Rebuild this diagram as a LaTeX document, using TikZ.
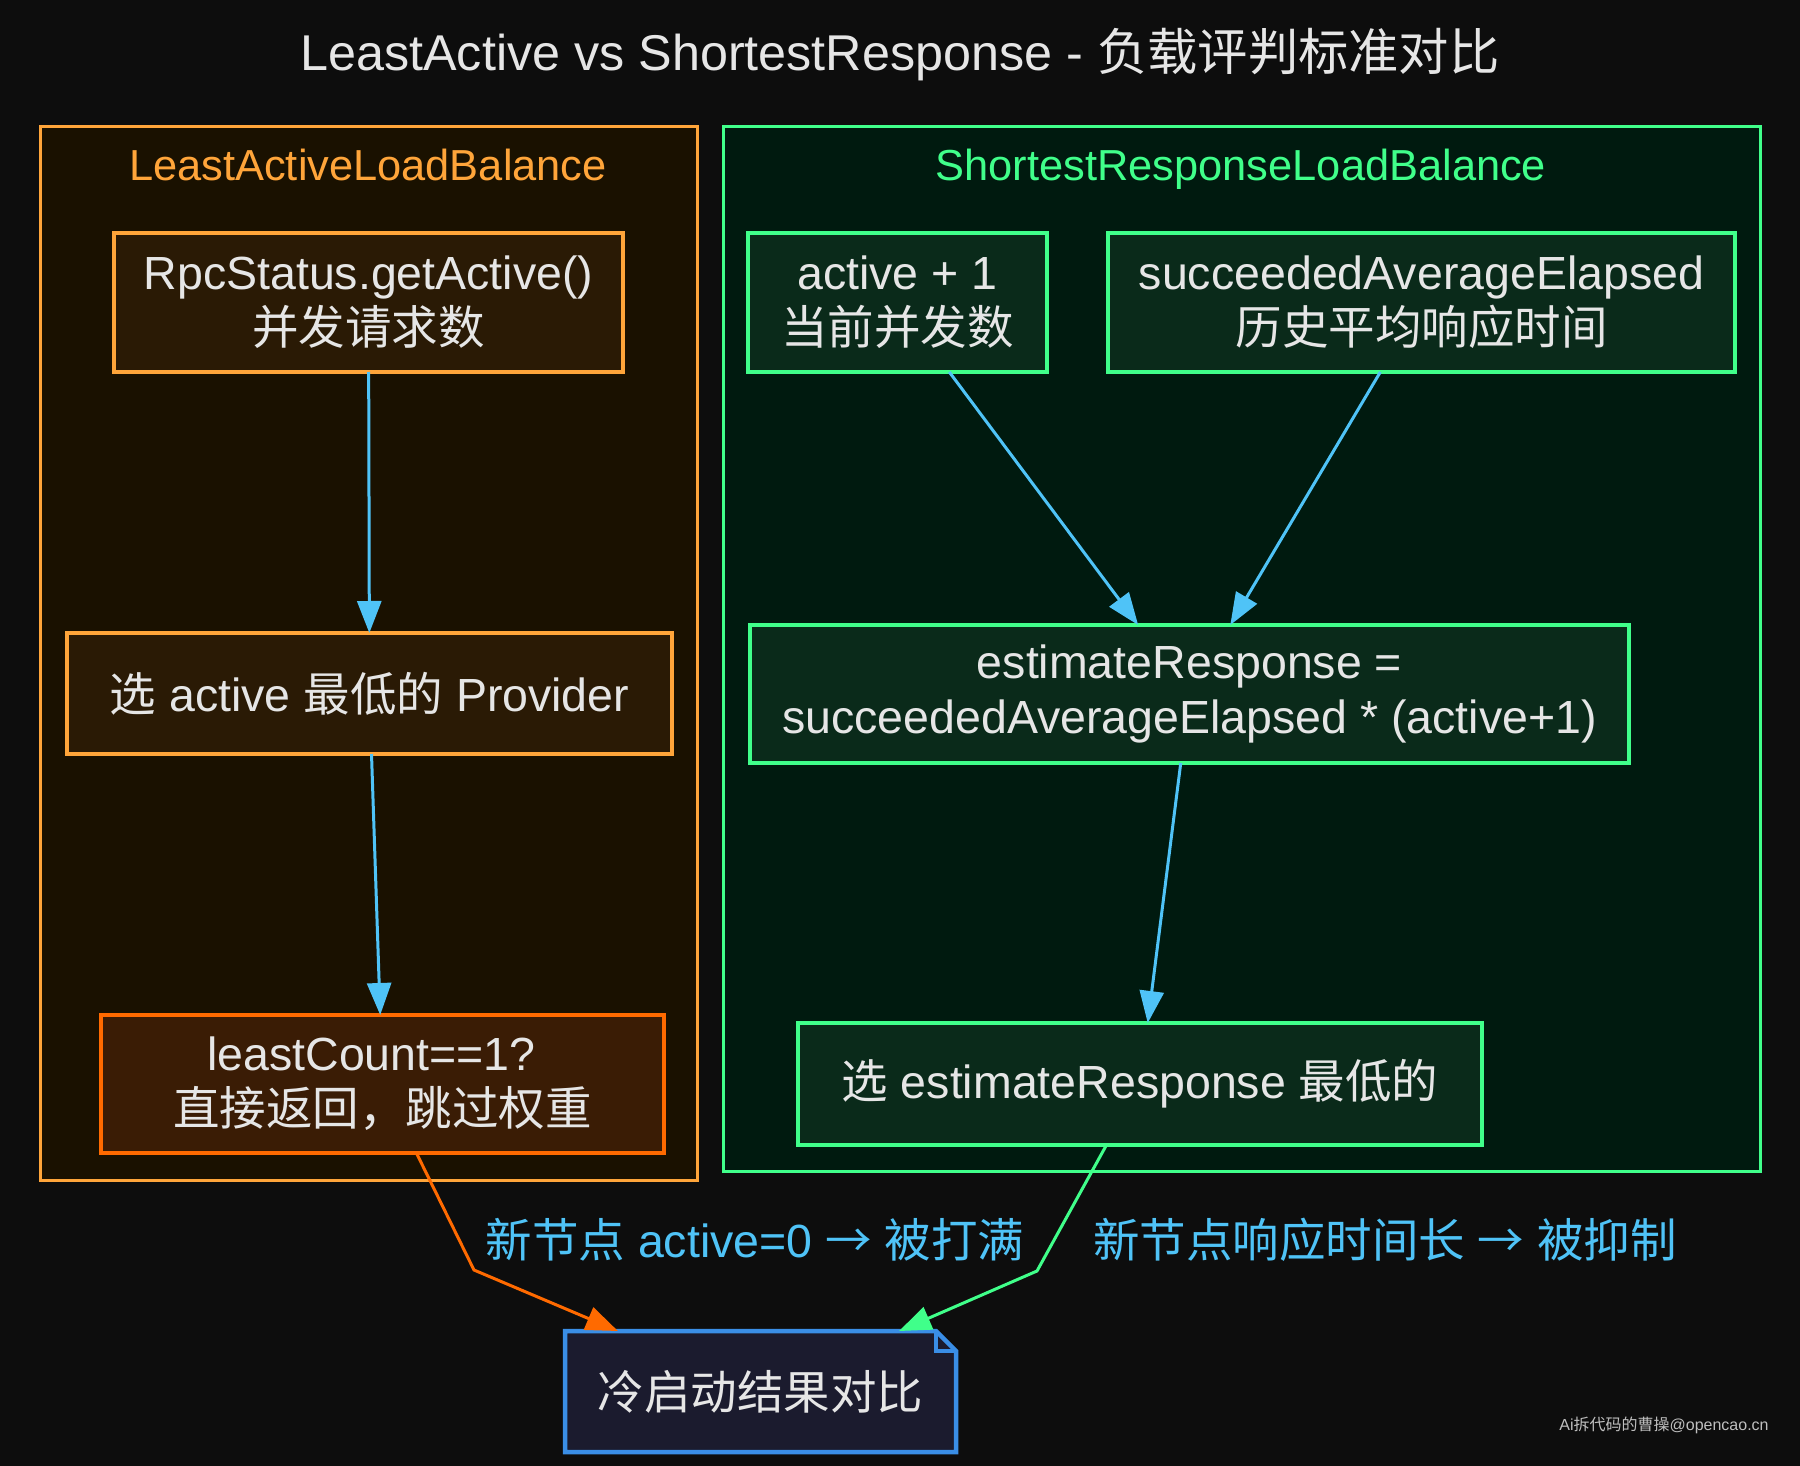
\documentclass[tikz,border=0pt]{standalone}
\usepackage{fontspec}
\setmainfont{Liberation Sans}
\newfontfamily\cjk{Noto Sans CJK SC}
\usetikzlibrary{arrows.meta}
\definecolor{bgc}{HTML}{0D0D0D}
\definecolor{lclfill}{HTML}{1A1100}
\definecolor{lclline}{HTML}{FFA53A}
\definecolor{lnfill}{HTML}{2A1A05}
\definecolor{lcfill}{HTML}{3A1C05}
\definecolor{lcline}{HTML}{FF6A00}
\definecolor{rclfill}{HTML}{001A0F}
\definecolor{rline}{HTML}{40FF8A}
\definecolor{rnfill}{HTML}{0A2A1A}
\definecolor{notefill}{HTML}{1B1B2E}
\definecolor{noteline}{HTML}{3A8EE6}
\definecolor{arrowc}{HTML}{4FC3F7}
\definecolor{txt}{HTML}{E6E6E6}
\definecolor{wmc}{HTML}{BFBFBF}
\pgfdeclarelayer{bglayer}
\pgfdeclarelayer{midlayer}
\pgfsetlayers{bglayer,midlayer,main}
\newcommand\fsnode{\fontsize{46.5pt}{55pt}\selectfont}
\newcommand\fscl{\fontsize{43.4pt}{52pt}\selectfont}
\newcommand\fstitle{\fontsize{50.3pt}{60pt}\selectfont}
\newcommand\fswm{\fontsize{16pt}{19pt}\selectfont}
\begin{document}
\begin{tikzpicture}[x=1pt,y=-1pt,
  every node/.style={inner sep=0pt, outer sep=0pt, text=txt},
  lcluster/.style={draw=lclline, fill=lclfill, line width=3pt},
  rcluster/.style={draw=rline, fill=rclfill, line width=3pt},
  cltitle/.style={font=\fscl, anchor=base},
  lbox/.style={draw=lclline, fill=lnfill, line width=4.5pt, align=center, font=\fsnode},
  lcbox/.style={draw=lcline, fill=lcfill, line width=4.5pt, align=center, font=\fsnode},
  rbox/.style={draw=rline, fill=rnfill, line width=4.5pt, align=center, font=\fsnode},
  notebox/.style={align=center, font=\fsnode},
  flow/.style={draw=arrowc, line width=3pt, -{Triangle[length=32pt,width=24pt]}},
  oedge/.style={draw=lcline, line width=3pt, line join=miter, -{Triangle[length=32pt,width=24pt]}},
  gedge/.style={draw=rline, line width=3pt, line join=miter, -{Triangle[length=32pt,width=24pt]}},
  elabel/.style={text=arrowc, font=\fsnode},
  wmark/.style={text=wmc, font=\fswm}
]
\begin{pgfonlayer}{bglayer}
\fill[bgc] (0,0) rectangle (1800,1466);
\end{pgfonlayer}
\useasboundingbox (0,0) rectangle (1800,1466);

% title
\node[font=\fstitle] (title) at (900,55) {LeastActive vs ShortestResponse - {\cjk 负载评判标准对比}};

% clusters
\node[lcluster, minimum width=657pt, minimum height=1053pt] (lcl) at (368.5,653.5) {};
\node[rcluster, minimum width=1037pt, minimum height=1044pt] (rcl) at (1241.5,649) {};
\node[cltitle, text=lclline] (lcllabel) at (368,181) {LeastActiveLoadBalance};
\node[cltitle, text=rline] (rcllabel) at (1241,181) {ShortestResponseLoadBalance};

% left nodes
\node[lbox, minimum width=509pt, minimum height=139pt] (rpc) at (368.5,302.5)
  {RpcStatus.getActive()\\{\cjk 并发请求数}};
\node[lbox, minimum width=605pt, minimum height=121pt] (prov) at (369.5,693.5)
  {{\cjk 选} active {\cjk 最低的} Provider};
\node[lcbox, minimum width=563pt, minimum height=138pt] (lc) at (382.5,1084)
  {leastCount==1?\hspace*{22pt}\\{\cjk 直接返回，跳过权重}};

% right nodes
\node[rbox, minimum width=299pt, minimum height=139pt] (act) at (897.5,302.5)
  {active + 1\\{\cjk 当前并发数}};
\node[rbox, minimum width=627pt, minimum height=139pt] (sae) at (1421.5,302.5)
  {succeededAverageElapsed\\{\cjk 历史平均响应时间}};
\node[rbox, minimum width=879pt, minimum height=138pt] (est) at (1189.5,694)
  {estimateResponse =\\succeededAverageElapsed * (active+1)};
\node[rbox, minimum width=684pt, minimum height=122pt] (sel) at (1140,1084)
  {{\cjk 选} estimateResponse {\cjk 最低的}};

% note
\node[notebox, minimum width=391pt, minimum height=121pt] (note) at (760.5,1391.5)
  {\cjk 冷启动结果对比};
\begin{pgfonlayer}{midlayer}
\filldraw[fill=notefill, draw=noteline, line width=4.5pt, line join=miter]
  (note.north west) -- ([xshift=-20pt]note.north east) -- ([yshift=-20pt]note.north east)
  -- (note.south east) -- (note.south west) -- cycle;
\draw[noteline, line width=4.5pt, line join=miter]
  ([xshift=-20pt]note.north east) -- ([xshift=-20pt,yshift=-20pt]note.north east)
  -- ([yshift=-20pt]note.north east);
\end{pgfonlayer}

% bend points
\coordinate (b1) at (474,1270);
\coordinate (b2) at (1037,1271);

% edges
\draw[flow] (rpc) -- (prov);
\draw[flow] (prov) -- (lc);
\draw[flow] (act) -- (est);
\draw[flow] (sae) -- (est);
\draw[flow] (est) -- (sel);
\draw[oedge] (lc) -- (b1) -- (note);
\draw[gedge] (sel) -- (b2) -- (note);

% edge labels
\node[elabel] (el1) at (755,1240) {{\cjk 新节点} active=0 {\cjk →} {\cjk 被打满}};
\node[elabel] (el2) at (1385,1240) {{\cjk 新节点响应时间长} {\cjk →} {\cjk 被抑制}};

% watermark
\node[wmark] (wm) at (1664,1425) {Ai{\cjk 拆代码的曹操}@opencao.cn};
\end{tikzpicture}
\end{document}
